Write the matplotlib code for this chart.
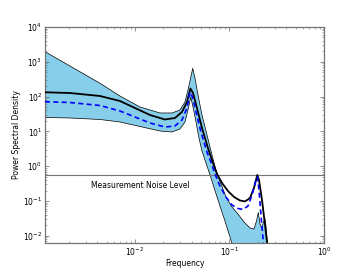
import numpy as np
import matplotlib
matplotlib.use("Agg")
import matplotlib.pyplot as plt

# ---- data (log10 frequency / log10 PSD) ----
mean_logf = [-2.952, -2.688, -2.370, -2.159, -2.0, -1.841, -1.683, -1.577, -1.503, -1.450,
             -1.413, -1.386, -1.344, -1.291, -1.228, -1.175, -1.132, -1.079, -1.016, -0.952,
             -0.889, -0.836, -0.783, -0.741, -0.706, -0.688, -0.656, -0.624, -0.593]
mean_logv = [2.124, 2.103, 2.017, 1.874, 1.672, 1.471, 1.342, 1.385, 1.557, 1.845,
             2.233, 2.103, 1.672, 1.098, 0.523, 0.092, -0.224, -0.483, -0.713, -0.885,
             -0.986, -1.014, -0.914, -0.626, -0.253, -0.397, -0.971, -1.690, -2.408]

est_logf = [-2.952, -2.688, -2.370, -2.159, -2.0, -1.841, -1.683, -1.577, -1.503, -1.450,
            -1.418, -1.392, -1.354, -1.302, -1.238, -1.185, -1.153, -1.101, -1.037, -0.974,
            -0.910, -0.857, -0.804, -0.762, -0.720, -0.704, -0.688, -0.667, -0.635]
est_logv = [1.853, 1.830, 1.744, 1.586, 1.414, 1.241, 1.126, 1.155, 1.328, 1.672,
            2.132, 1.989, 1.557, 0.983, 0.408, 0.034, -0.224, -0.569, -0.885, -1.115,
            -1.216, -1.244, -1.144, -0.828, -0.397, -0.310, -0.684, -1.402, -2.408]

upper_logf = [-2.952, -2.688, -2.370, -2.159, -1.947, -1.735, -1.608, -1.524, -1.471, -1.434,
              -1.389, -1.365, -1.333, -1.291, -1.238, -1.185, -1.132, -1.090, -1.037, -0.974,
              -0.910, -0.847, -0.783, -0.741, -0.714, -0.695, -0.677, -0.659, -0.640, -0.624,
              -0.614, -0.593]
upper_logv = [3.290, 2.879, 2.382, 2.017, 1.701, 1.529, 1.529, 1.615, 1.845, 2.247,
              2.813, 2.534, 2.046, 1.471, 0.897, 0.322, -0.224, -0.511, -0.885, -1.172,
              -1.374, -1.603, -1.776, -1.805, -1.575, -1.330, -1.661, -1.776, -1.603, -1.517,
              -1.718, -2.408]

lower_logf = [-2.952, -2.688, -2.370, -2.159, -1.947, -1.735, -1.608, -1.524, -1.471, -1.434,
              -1.410, -1.386, -1.354, -1.323, -1.291, -1.259, -1.206, -1.153, -1.101, -1.048,
              -0.995, -0.952]
lower_logv = [1.399, 1.385, 1.342, 1.270, 1.141, 1.011, 0.983, 1.069, 1.270, 1.672,
              1.989, 1.701, 1.270, 0.810, 0.437, 0.178, -0.253, -0.704, -1.144, -1.575,
              -2.034, -2.408]

noise_level = 0.55
noise_label = "Measurement Noise Level"
xlabel = "Frequency"
ylabel = "Power Spectral Density"

mean_f = 10 ** np.array(mean_logf); mean_v = 10 ** np.array(mean_logv)
est_f = 10 ** np.array(est_logf); est_v = 10 ** np.array(est_logv)
up_f = 10 ** np.array(upper_logf); up_v = 10 ** np.array(upper_logv)
lo_f = 10 ** np.array(lower_logf); lo_v = 10 ** np.array(lower_logv)

plt.rcParams.update({
    "font.size": 5.5,
    "xtick.direction": "in", "ytick.direction": "in",
    "xtick.top": True, "ytick.right": True,
    "xtick.major.size": 3, "ytick.major.size": 3,
    "xtick.minor.size": 1.5, "ytick.minor.size": 1.5,
    "xtick.major.width": 0.5, "ytick.major.width": 0.5,
    "xtick.minor.width": 0.4, "ytick.minor.width": 0.4,
    "xtick.major.pad": 2, "ytick.major.pad": 2,
    "xtick.minor.pad": 2, "ytick.minor.pad": 2,
    "xtick.color": "0.4", "ytick.color": "0.4",
    "xtick.labelcolor": "black", "ytick.labelcolor": "black",
})

fig = plt.figure(figsize=(3.6, 2.7), dpi=100)
fig.subplots_adjust(left=0.125, right=0.9, bottom=0.1, top=0.9)
ax = fig.add_subplot(111)

poly_f = np.concatenate([up_f, lo_f[::-1]])
poly_v = np.concatenate([up_v, lo_v[::-1]])
ax.fill(poly_f, poly_v, facecolor="#87CEEB", edgecolor="none", zorder=1)
ax.plot(up_f, up_v, color="black", lw=0.5, zorder=2)
ax.plot(lo_f, lo_v, color="black", lw=0.5, zorder=2)
ax.plot(mean_f, mean_v, color="black", lw=1.3, zorder=3)
ax.plot(est_f, est_v, color="blue", lw=1.2, ls="--", dashes=(3, 2), zorder=4)
ax.axhline(noise_level, color="0.45", lw=0.8, zorder=2)
ax.text(3.4e-3, 0.27, noise_label, fontsize=5.5, va="center", ha="left")

ax.set_xscale("log")
ax.set_yscale("log")
ax.set_xlim(1.117e-3, 1.0)
ax.set_ylim(6.2e-3, 1e4)
ax.set_xlabel(xlabel, labelpad=0.5)
ax.set_ylabel(ylabel, labelpad=1.5)
for s in ax.spines.values():
    s.set_color("0.45")
    s.set_linewidth(0.9)

fig.savefig("out.png", dpi=100)
